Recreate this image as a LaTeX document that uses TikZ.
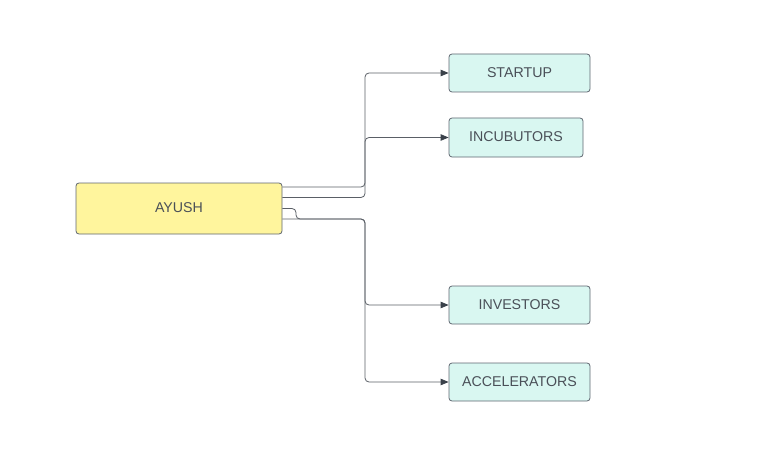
\documentclass[tikz,border=0pt]{standalone}
\usepackage{fontspec}
\setmainfont{Liberation Sans}
\usetikzlibrary{arrows.meta,calc}
\definecolor{ylw}{HTML}{FFF59D}
\definecolor{tealf}{HTML}{D9F7F1}
\definecolor{bord}{HTML}{5F6670}
\definecolor{txt}{HTML}{4A5058}
\definecolor{lin}{HTML}{5A5F66}
\definecolor{tip}{HTML}{3A414A}
\newcommand{\lbl}[1]{\raisebox{1.8pt}{#1}}
\tikzset{
  box/.style={draw=bord, line width=0.8pt, rounded corners=3pt, text=txt, font=\fontsize{14.2}{16}\selectfont, inner sep=0pt, align=center},
  conn/.style={draw=lin, line width=0.8pt, rounded corners=4pt, -{Triangle[length=8pt,width=6.5pt,color=tip]}}
}
\begin{document}
\begin{tikzpicture}[x=1pt,y=-1pt]
\useasboundingbox (0,0) rectangle (780,452);
\node[box, fill=ylw, minimum width=206pt, minimum height=51pt] (a) at (179,208.5) {\lbl{AYUSH}};
\node[box, fill=tealf, minimum width=141pt, minimum height=38pt] (s) at (519.5,73) {\lbl{STARTUP}};
\node[box, fill=tealf, minimum width=134pt, minimum height=39pt] (i) at (516,137.5) {\lbl{INCUBUTORS}};
\node[box, fill=tealf, minimum width=141pt, minimum height=38pt] (v) at (519.5,305) {\lbl{INVESTORS}};
\node[box, fill=tealf, minimum width=141pt, minimum height=38pt] (c) at (519.5,382) {\lbl{ACCELERATORS}};
\coordinate (k1) at (365,187);
\coordinate (k2) at (365,197.5);
\coordinate (j1) at (296,208.5);
\coordinate (j2) at (296,219);
\coordinate (k3) at (365,219);
\draw[conn] ([yshift=21.5pt]a.east) -- (k1) |- (s.west);
\draw[conn] ([yshift=11pt]a.east) -- (k2) |- (i.west);
\draw[conn] (a.east) -- (j1) -- (j2) -- (k3) |- (v.west);
\draw[conn] ([yshift=-10.5pt]a.east) -- (k3) |- (c.west);
\end{tikzpicture}
\end{document}
